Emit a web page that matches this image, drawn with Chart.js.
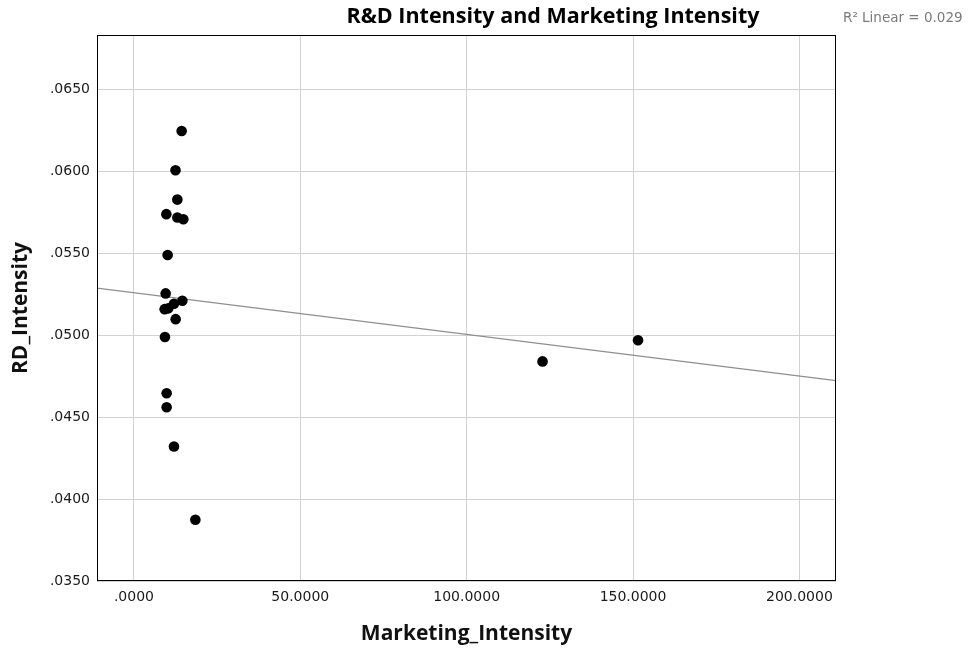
<!DOCTYPE html>
<html>
<head>
<meta charset="utf-8">
<script src="https://cdn.jsdelivr.net/npm/chart.js@4"></script>
<style>
  html, body { margin: 0; padding: 0; background: #fff; }
  #wrap { width: 972px; height: 651px; }
</style>
</head>
<body>
<div id="wrap"><canvas id="myChart" width="972" height="651"></canvas></div>
<script>
// values
const marketingIntensity = [14.34, 12.50, 13.05, 9.74, 13.05, 14.85, 10.13, 9.53, 14.55, 12.03,
                            10.34, 9.23, 12.54, 9.32, 9.83, 9.83, 12.03, 18.46, 122.8, 151.5];
const rdIntensity = [0.06248, 0.06008, 0.05829, 0.05740, 0.05720, 0.05709, 0.05491, 0.05256, 0.05211, 0.05193,
                     0.05165, 0.05160, 0.05099, 0.04990, 0.04646, 0.04561, 0.04321, 0.03874, 0.04841, 0.04970];

// fit line, ends at the axis limits
const fitX = [-11.1, 211.0];
const fitY = [0.05288, 0.04723];

const xTickValues = [0, 50, 100, 150, 200];
const yTickValues = [0.035, 0.040, 0.045, 0.050, 0.055, 0.060, 0.065];

const chartTitle = 'R&D Intensity and Marketing Intensity';
const fitLabel = 'R\u00B2 Linear = 0.029';

// SPSS style: no leading zero
function fmt(v) {
    let s = v.toFixed(4);
    if (s.startsWith('0.')) s = s.slice(1);
    return s;
}

const scatterPoints = marketingIntensity.map((x, i) => ({ x: x, y: rdIntensity[i] }));
const fitPoints = fitX.map((x, i) => ({ x: x, y: fitY[i] }));

const extras = {
    id: 'extras',
    afterDraw(chart) {
        const { ctx, chartArea: a } = chart;
        ctx.save();
        ctx.strokeStyle = '#000';
        ctx.lineWidth = 1;
        ctx.strokeRect(Math.round(a.left) + 0.5, Math.round(a.top) + 0.5,
                       Math.round(a.right - a.left) - 1, Math.round(a.bottom - a.top) - 1);

        ctx.fillStyle = '#000';
        ctx.font = 'bold 21.5px "Open Sans"';
        ctx.textAlign = 'center';
        ctx.textBaseline = 'middle';
        ctx.fillText(chartTitle, 553, 17);

        ctx.fillStyle = '#7a7a7a';
        ctx.font = '13.5px "DejaVu Sans"';
        ctx.textAlign = 'left';
        ctx.fillText(fitLabel, a.right + 7, 18);
        ctx.restore();
    }
};

const ctx = document.getElementById('myChart').getContext('2d');
const myChart = new Chart(ctx, {
    type: 'scatter',
    data: {
        datasets: [{
            type: 'line',
            data: fitPoints,
            borderColor: '#8e8e8e',
            borderWidth: 1.2,
            pointRadius: 0,
            fill: false,
            order: 2
        }, {
            data: scatterPoints,
            backgroundColor: '#000',
            borderWidth: 0,
            pointRadius: 5.3,
            order: 1
        }]
    },
    options: {
        responsive: false,
        animation: false,
        layout: { padding: { top: 35, right: 136, bottom: 0, left: 0 } },
        plugins: {
            legend: { display: false },
            tooltip: { enabled: false }
        },
        scales: {
            x: {
                type: 'linear',
                min: -11.1,
                max: 211.0,
                afterBuildTicks: s => { s.ticks = xTickValues.map(v => ({ value: v })); },
                afterFit: s => { s.height = 70; },
                grid: { color: '#d2d2d2', drawTicks: false },
                border: { display: false },
                ticks: {
                    padding: 8,
                    color: '#1a1a1a',
                    font: { family: 'DejaVu Sans', size: 14 },
                    callback: v => fmt(v),
                    maxRotation: 0
                },
                title: {
                    display: true,
                    text: 'Marketing_Intensity',
                    color: '#111',
                    font: { family: 'Open Sans', size: 21, weight: 'bold' },
                    padding: { top: 0, bottom: 4 }
                }
            },
            y: {
                type: 'linear',
                min: 0.035,
                max: 0.06834,
                afterBuildTicks: s => { s.ticks = yTickValues.map(v => ({ value: v })); },
                afterFit: s => { s.width = 97; },
                grid: { color: '#d2d2d2', drawTicks: false },
                border: { display: false },
                ticks: {
                    padding: 7,
                    color: '#1a1a1a',
                    font: { family: 'DejaVu Sans', size: 14 },
                    callback: v => fmt(v)
                },
                title: {
                    display: true,
                    text: 'RD_Intensity',
                    color: '#111',
                    font: { family: 'Open Sans', size: 21, weight: 'bold' },
                    padding: { top: 8, bottom: 0 }
                }
            }
        }
    },
    plugins: [extras]
});
</script>
</body>
</html>
